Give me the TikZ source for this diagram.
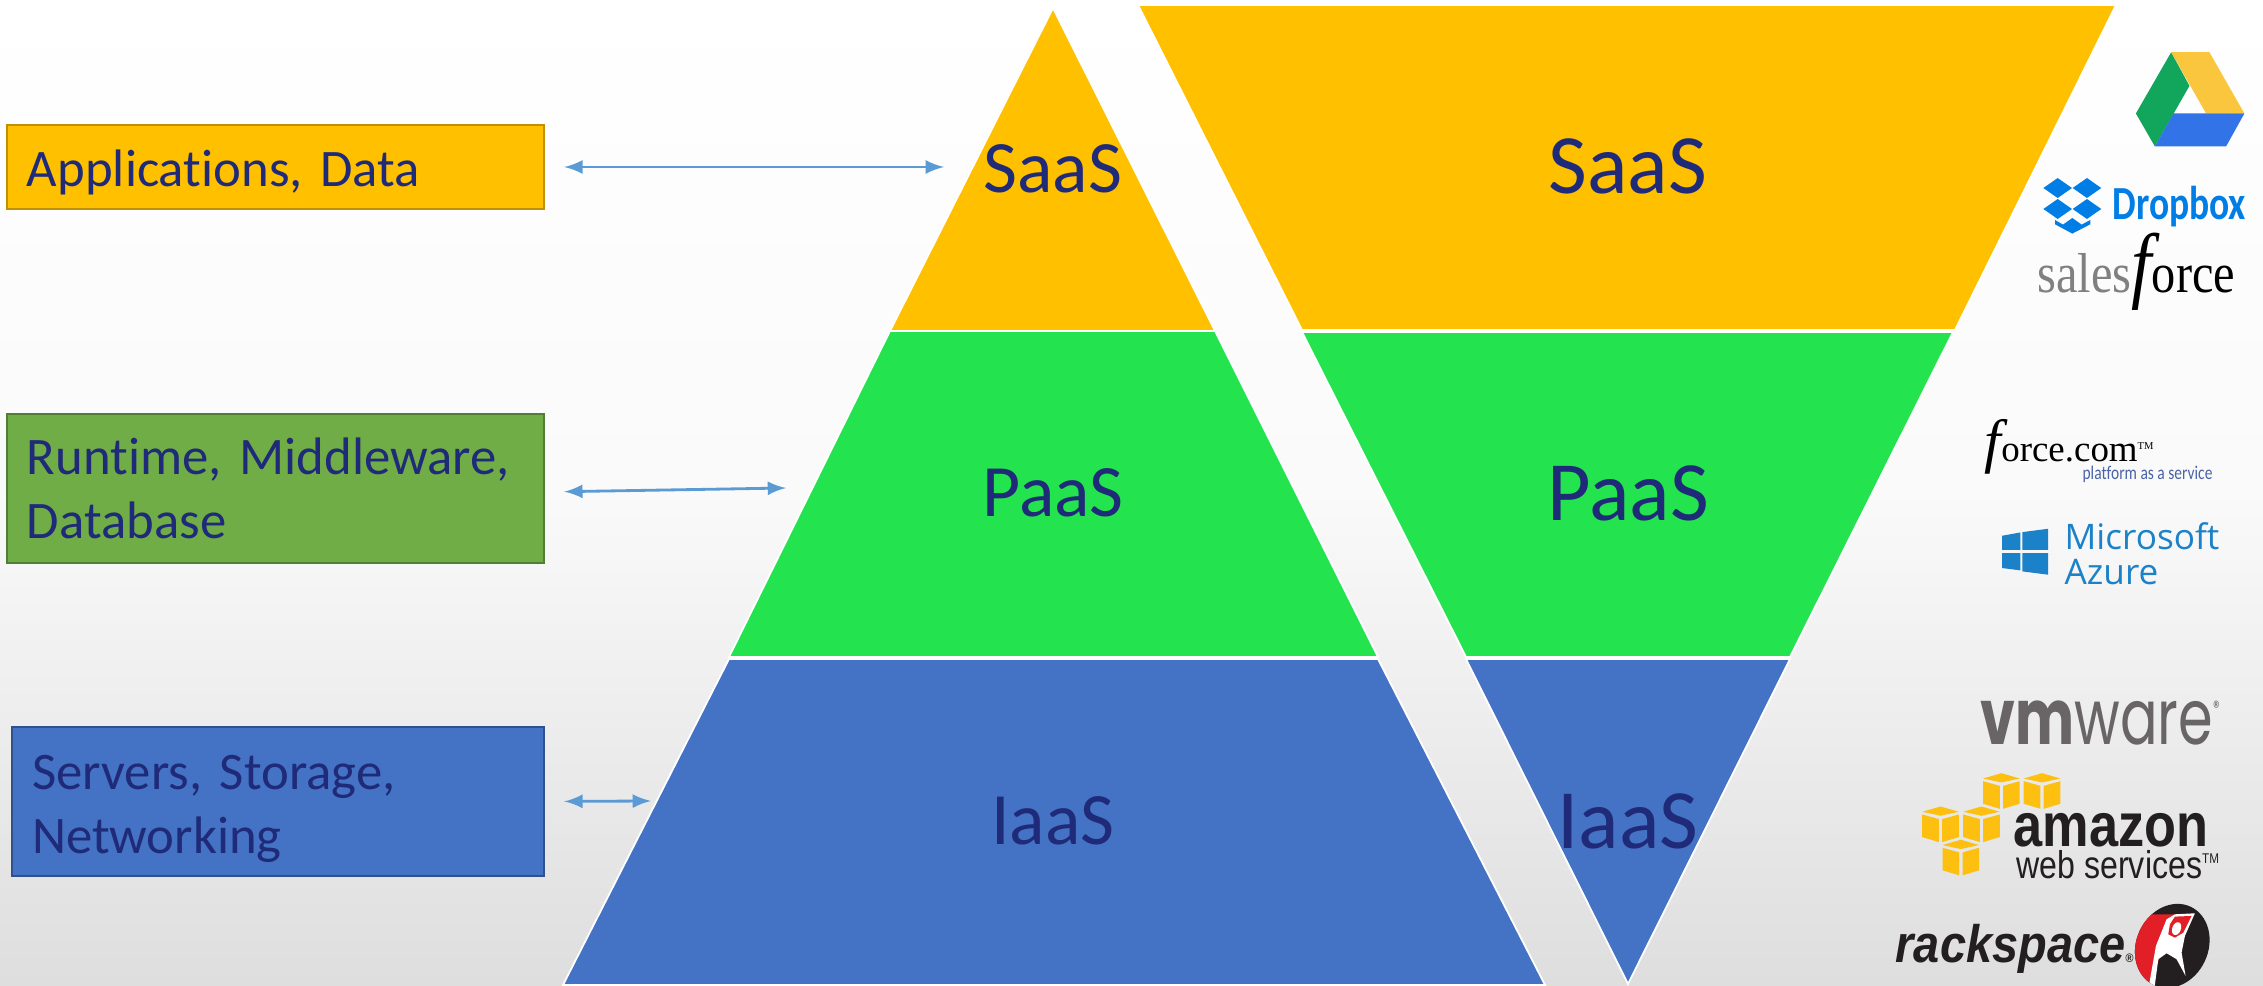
\documentclass[tikz,border=0pt]{standalone}
\usepackage{fontspec}
\setmainfont{Carlito}[Ligatures=CommonOff]
\newfontfamily\timesfont{Liberation Serif}
\newfontfamily\arialfont{Liberation Sans}
\newfontfamily\azurefont{Open Sans}
\newfontfamily\vmfont{Poppins}
\definecolor{saascol}{HTML}{FFC000}
\definecolor{paascol}{HTML}{23E34F}
\definecolor{iaascol}{HTML}{4472C4}
\definecolor{runcol}{HTML}{70AD47}
\definecolor{runedge}{HTML}{507E32}
\definecolor{srvedge}{HTML}{2F528F}
\definecolor{inkcol}{HTML}{1F2A78}
\definecolor{arrowcol}{HTML}{5B9BD5}
\definecolor{awscol}{HTML}{FDC010}
\definecolor{dropcol}{HTML}{007EE5}
\definecolor{azurecol}{HTML}{1B82C9}
\definecolor{drivegreen}{HTML}{12A65C}
\definecolor{driveyellow}{HTML}{F9C63D}
\definecolor{driveblue}{HTML}{3274E8}
\definecolor{fcblue}{HTML}{4A63A8}
\definecolor{vmgray}{HTML}{696566}
\definecolor{logoblack}{HTML}{231F20}
\definecolor{rackred}{HTML}{E21E26}
\tikzset{
  layerbox/.style={draw,line width=0.7pt,minimum height=#1,minimum width=537*0.01cm,text width=497*0.01cm,align=left,
    text=inkcol,font=\fontsize{15}{18.2}\selectfont,inner sep=0pt},
  bigname/.style={text=inkcol,font=\fontsize{#1}{#1}\selectfont,inner sep=0pt},
  logo/.style={anchor=base west,inner sep=0pt},
  squeezed/.style={xscale=#1,transform shape},
  band/.style={draw=white,line width=0.5pt},
  link/.style={<->,>=latex,arrowcol,line width=0.8pt,shorten <=0.19cm}
}
\newcommand{\awscube}[2]{
  \fill[awscol] (#1,#2) -- ++(55,16) -- ++(-55,12) -- ++(-55,-12) -- cycle;
  \fill[awscol] (#1-55,#2+24) -- (#1-5,#2+38) -- (#1-5,#2+107) -- (#1-55,#2+92) -- cycle;
  \fill[awscol] (#1+55,#2+24) -- (#1+5,#2+38) -- (#1+5,#2+107) -- (#1+55,#2+92) -- cycle;
}
\begin{document}
\begin{tikzpicture}[x=0.01cm,y=-0.01cm]
         \useasboundingbox (0,0) rectangle (2263,986);
         \shade[top color=white,bottom color=black!13!white,middle color=white!98!black] (0,0) rectangle (2263,986);

         \fill[saascol,band] (1053,8) -- (1215,331) -- (890,331) -- cycle;
         \fill[paascol,band] (890,331) -- (1215,331) -- (1378,657) -- (729,657) -- cycle;
         \fill[iaascol,band] (729,659) -- (1378,659) -- (1545,985) -- (563,985) -- cycle;
         \fill[saascol,band] (1138,5) -- (2116,5) -- (1955,330) -- (1302,330) -- cycle;
         \fill[paascol,band] (1302,332) -- (1953,332) -- (1790,657) -- (1466,657) -- cycle;
         \fill[iaascol,band] (1466,659) -- (1790,659) -- (1628,984) -- cycle;

         \node[bigname=21](leftsaas) at (1053,169) {SaaS};
         \node[bigname=21](leftpaas) at (1053,493) {PaaS};
         \node[bigname=21](leftiaas) at (1053,821) {IaaS};
         \node[bigname=24](rightsaas) at (1628,166) {SaaS};
         \node[bigname=24](rightpaas) at (1628,493) {PaaS};
         \node[bigname=24](rightiaas) at (1628,821) {IaaS};

         \node[layerbox=84*0.01cm,fill=saascol,draw=saascol!75!black](appbox) at (275.5,167) {\rule{0pt}{13.5pt}Applications, Data};
         \node[layerbox=149*0.01cm,fill=runcol,draw=runedge](runbox) at (275.5,488.5) {Runtime, Middleware,\\Database};
         \node[layerbox=149*0.01cm,fill=iaascol,draw=srvedge,minimum width=532*0.01cm,text width=492*0.01cm](srvbox) at (278,801.5) {\rule{0pt}{14pt}Servers, Storage,\\Networking};

         \coordinate (saastip) at (944,167);
         \coordinate (paastip) at (786,488);
         \coordinate (iaastip) at (651,801);
         \draw[link](appbox.east) -- (saastip);
         \draw[link]([yshift=-1pt]runbox.east) -- (paastip);
         \draw[link](srvbox.east) -- (iaastip);

         \begin{scope}[shift={(1850,0)},x=0.00333cm,y=-0.00333cm]
           \fill[drivegreen] (965,157) -- (1020,258) -- (916,440) -- (859,341) -- cycle;
           \fill[driveyellow] (965,157) -- (1080,157) -- (1185,341) -- (1070,341) -- cycle;
           \fill[driveblue] (972,341) -- (1185,341) -- (1130,440) -- (916,440) -- cycle;
           \foreach \px/\py in {624/565,712/565,624/628,712/628}
             \fill[dropcol] (\px-43,\py) -- (\px,\py-30) -- (\px+43,\py) -- (\px,\py+30) -- cycle;
           \fill[dropcol] (616,661) -- (640,675) -- (668,655) -- (696,675) -- (722,661) -- (722,674) -- (668,702) -- (616,674) -- cycle;
         \end{scope}
         \node[logo,text=dropcol,font=\fontsize{13.5}{13.5}\selectfont\bfseries,squeezed=0.79](dropboxname) at (2112,220) {Dropbox};
         \node[logo,font=\fontsize{16}{16}\selectfont\timesfont,squeezed=0.86](sfname) at (2037,293) {\textcolor{gray}{sales}{\fontsize{24}{24}\selectfont\itshape f}orce};

         \node[logo,font=\fontsize{10.5}{10.5}\selectfont\timesfont](fcname) at (1984,462) {{\fontsize{17}{17}\selectfont\itshape f}orce.com\raisebox{3.5pt}{\fontsize{3}{3}\selectfont TM}};
         \node[logo,text=fcblue,font=\fontsize{5.5}{5.5}\selectfont,squeezed=0.8](fcsub) at (2082,480) {platform as a service};
         \begin{scope}[shift={(1850,400)},x=0.00333cm,y=-0.00333cm]
           \fill[azurecol] (457,408) -- (512,398) -- (512,450) -- (457,450) -- cycle;
           \fill[azurecol] (518,397) -- (595,387) -- (595,450) -- (518,450) -- cycle;
           \fill[azurecol] (457,460) -- (512,460) -- (512,512) -- (457,505) -- cycle;
           \fill[azurecol] (518,460) -- (595,460) -- (595,525) -- (518,515) -- cycle;
         \end{scope}
         \node[logo,text=azurecol,font=\fontsize{10}{10}\selectfont\azurefont](azname) at (2064,550) {Microsoft};
         \node[logo,text=azurecol,font=\fontsize{10}{10}\selectfont\azurefont](azname2) at (2064,585) {Azure};

         \node[logo,text=vmgray,font=\fontsize{22}{22}\selectfont\vmfont,squeezed=0.72](vmname) at (1980,745) {{\bfseries vm}ware\raisebox{9pt}{\fontsize{5}{5}\selectfont ®}};
         \begin{scope}[shift={(1850,680)},x=0.00333cm,y=-0.00333cm]
           \awscube{455}{280}
           \awscube{577}{280}
           \awscube{272}{380}
           \awscube{395}{380}
           \awscube{333}{480}
         \end{scope}
         \node[logo,text=logoblack,font=\fontsize{17.5}{17.5}\selectfont\arialfont\bfseries,squeezed=0.85](awsname) at (2013,847) {amazon};
         \node[logo,text=logoblack,font=\fontsize{11}{11}\selectfont\arialfont,squeezed=0.83](awssub) at (2016,879) {web services\raisebox{4.5pt}{\fontsize{4}{4}\selectfont TM}};
         \node[logo,text=logoblack,font=\fontsize{15}{15}\selectfont\arialfont\bfseries\itshape,squeezed=0.89](rsname) at (1895,963) {rackspace\fontsize{3.5}{3.5}\selectfont ®};

         \begin{scope}[shift={(2120,896)},x=0.00333cm,y=-0.00333cm]
           \clip[rotate around={-25:(157,150)}] (157,150) ellipse [x radius=108,y radius=130];
           \fill[logoblack] (0,0) rectangle (300,280);
           \fill[rackred] (165,55) -- (0,55) -- (0,280) -- (85,280) -- cycle;
           \fill[white] (165,55) -- (225,52) -- (195,120) -- (185,170) -- (197,240) -- (170,190) -- (140,172) -- (115,190) -- (103,280) -- (85,280) -- (108,150) -- (140,70) -- cycle;
           \fill[rackred] (165,62) -- (215,60) -- (190,110) -- (165,125) -- (145,115) -- (150,85) -- cycle;
           \fill[white] (170,98) [rotate around={-20:(170,98)}] ellipse [x radius=13,y radius=20];
         \end{scope}
\end{tikzpicture}
\end{document}
